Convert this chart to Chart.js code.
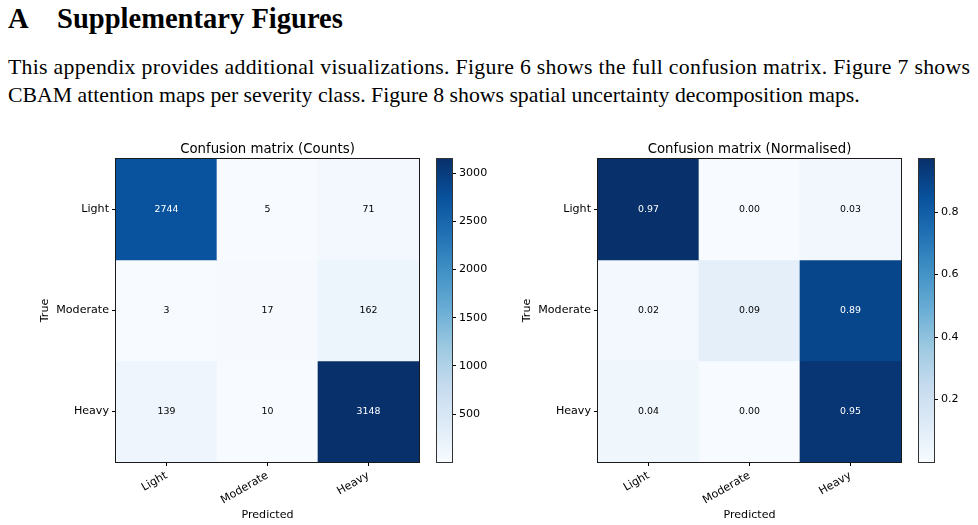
<!DOCTYPE html>
<html><head><meta charset="utf-8">
<script src="https://cdn.jsdelivr.net/npm/chart.js@4.4.1/dist/chart.umd.min.js"></script>
<style>
html,body{margin:0;padding:0;background:#fff;width:978px;height:525px;overflow:hidden;}
canvas{position:absolute;}
svg{position:absolute;left:0;top:0;}
</style></head><body>
<svg id="txt" width="978" height="130" xmlns="http://www.w3.org/2000/svg">
  <text id="hA" x="8" y="28" font-family="Liberation Serif" font-weight="bold" font-size="28.5" fill="#000">A</text>
  <text id="hS" x="57" y="28" font-family="Liberation Serif" font-weight="bold" font-size="28.5" fill="#000">Supplementary Figures</text>
  <text id="p1" x="8" y="74" font-family="Liberation Serif" font-size="22" fill="#000">This appendix provides additional visualizations. Figure 6 shows the full confusion matrix. Figure 7 shows</text>
  <text id="p2" x="8" y="102" font-family="Liberation Serif" font-size="22" fill="#000">CBAM attention maps per severity class. Figure 8 shows spatial uncertainty decomposition maps.</text>
</svg>
<canvas id="cmL" width="470" height="395" style="left:0px;top:130px"></canvas>
<canvas id="cbL" width="70" height="395" style="left:420px;top:130px"></canvas>
<canvas id="cmR" width="420" height="395" style="left:490px;top:130px"></canvas>
<canvas id="cbR" width="73" height="395" style="left:905px;top:130px"></canvas>
<script>
// ---- data ----
const classes = ['Light', 'Moderate', 'Heavy'];
const countsTrueLight    = [2744, 5, 71];
const countsTrueModerate = [3, 17, 162];
const countsTrueHeavy    = [139, 10, 3148];
const normTrueLight      = [0.97, 0.00, 0.03];
const normTrueModerate   = [0.02, 0.09, 0.89];
const normTrueHeavy      = [0.04, 0.00, 0.95];
const countTicks = [500, 1000, 1500, 2000, 2500, 3000];
const normTicks  = [0.2, 0.4, 0.6, 0.8];

// ---- text fitting ----
(function(){
  const m = document.createElement('canvas').getContext('2d');
  m.font = 'bold 28px "Liberation Serif"';
  const wh = m.measureText('Supplementary Figures').width;
  const fh = 28 * 286 / wh;
  document.getElementById('hA').setAttribute('font-size', fh);
  document.getElementById('hS').setAttribute('font-size', fh);
  const l2 = document.getElementById('p2').textContent;
  m.font = '22px "Liberation Serif"';
  const w2 = m.measureText(l2).width;
  const fp = 22 * 852 / w2;
  document.getElementById('p1').setAttribute('font-size', fp);
  document.getElementById('p2').setAttribute('font-size', fp);
  const p1 = document.getElementById('p1');
  p1.setAttribute('textLength', 962);
  p1.setAttribute('lengthAdjust', 'spacing');
})();

// ---- colormap (matplotlib Blues) ----
const bluesStops = ['#f7fbff','#deebf7','#c6dbef','#9ecae1','#6baed6','#4292c6','#2171b5','#08519c','#08306b'];
function hex2rgb(h){return [parseInt(h.slice(1,3),16),parseInt(h.slice(3,5),16),parseInt(h.slice(5,7),16)];}
function bluesAt(t){
  t = Math.max(0, Math.min(1, t));
  const n = bluesStops.length - 1;
  const i = Math.min(n - 1, Math.floor(t * n));
  const f = t * n - i;
  const a = hex2rgb(bluesStops[i]), b = hex2rgb(bluesStops[i+1]);
  const c = a.map((v,k)=>Math.round(v + (b[k]-v)*f));
  return 'rgb(' + c.join(',') + ')';
}

const FONT = '"DejaVu Sans", sans-serif';
const tickFont = {family: FONT, size: 11.1};

function makeHeatmap(id, rows, fmt, title, yWidth, padRight, yTitlePad){
  const all = rows.flat();
  const vmin = Math.min(...all), vmax = Math.max(...all);
  const thresh = vmax / 2;
  const datasets = rows.map((row, r) => ({
    data: row.map(() => [r, r + 1]),
    backgroundColor: row.map(v => bluesAt((v - vmin) / (vmax - vmin))),
    borderWidth: 0,
    barPercentage: 1,
    categoryPercentage: 1,
    grouped: false
  }));
  const overlay = {
    id: 'overlay_' + id,
    afterDatasetsDraw(chart){
      const {ctx, chartArea: a, scales: {x, y}} = chart;
      ctx.save();
      ctx.font = '9.4px ' + FONT;
      ctx.textAlign = 'center';
      ctx.textBaseline = 'middle';
      rows.forEach((row, r) => row.forEach((v, c) => {
        ctx.fillStyle = v > thresh ? '#ffffff' : '#000000';
        ctx.fillText(fmt(v), x.getPixelForValue(c), y.getPixelForValue(r + 0.5));
      }));
      ctx.strokeStyle = '#1a1a1a';
      ctx.lineWidth = 1;
      ctx.strokeRect(a.left - 0.5, a.top - 0.5, a.width + 1, a.height + 1);
      ctx.fillStyle = '#000';
      ctx.font = '13.3px ' + FONT;
      ctx.textBaseline = 'alphabetic';
      ctx.fillText(title, (a.left + a.right) / 2, a.top - 6.5);
      ctx.restore();
    }
  };
  return new Chart(document.getElementById(id), {
    type: 'bar',
    data: {labels: classes, datasets},
    options: {
      responsive: false, animation: false,
      layout: {padding: {left: 0, right: padRight, top: 29, bottom: 0}},
      plugins: {legend: {display: false}, tooltip: {enabled: false}},
      scales: {
        x: {
          type: 'category',
          afterFit: s => { s.height = 63; },
          grid: {offset: false, drawOnChartArea: false, drawTicks: true, tickLength: 4, color: '#000'},
          border: {display: false},
          ticks: {font: tickFont, color: '#000', minRotation: 30, maxRotation: 30, autoSkip: false, padding: 3},
          title: {display: true, text: 'Predicted', font: tickFont, color: '#000', padding: {top: 0, bottom: 3.3}}
        },
        y: {
          type: 'linear', min: 0, max: 3, reverse: true,
          afterFit: s => { s.width = yWidth; },
          afterBuildTicks: s => { s.ticks = classes.map((c, i) => ({value: i + 0.5})); },
          grid: {drawOnChartArea: false, drawTicks: true, tickLength: 4, color: '#000'},
          border: {display: false},
          ticks: {font: tickFont, color: '#000', padding: 3, callback: v => classes[Math.floor(v)]},
          title: {display: true, text: 'True', font: tickFont, color: '#000', padding: {top: yTitlePad, bottom: 0}}
        }
      }
    },
    plugins: [overlay]
  });
}

function makeColorbar(id, rows, ticks, fmt, padLeft, axisW){
  const all = rows.flat();
  const vmin = Math.min(...all), vmax = Math.max(...all);
  const outline = {
    id: 'outline_' + id,
    afterDatasetsDraw(chart){
      const {ctx, chartArea: a} = chart;
      ctx.save();
      ctx.strokeStyle = '#333';
      ctx.lineWidth = 1;
      ctx.strokeRect(a.left - 0.5, a.top - 0.5, a.width + 1, a.height + 1);
      ctx.restore();
    }
  };
  return new Chart(document.getElementById(id), {
    type: 'bar',
    data: {labels: [''], datasets: [{
      data: [[vmin, vmax]],
      backgroundColor: c => {
        const ca = c.chart.chartArea;
        if (!ca) return bluesStops[0];
        const g = c.chart.ctx.createLinearGradient(0, ca.bottom, 0, ca.top);
        bluesStops.forEach((col, i) => g.addColorStop(i / (bluesStops.length - 1), col));
        return g;
      },
      borderWidth: 0, barPercentage: 1, categoryPercentage: 1
    }]},
    options: {
      responsive: false, animation: false,
      layout: {padding: {left: padLeft, right: 0, top: 29, bottom: 63}},
      plugins: {legend: {display: false}, tooltip: {enabled: false}},
      scales: {
        x: {display: false},
        y: {
          position: 'right', min: vmin, max: vmax,
          afterFit: s => { s.width = axisW; },
          afterBuildTicks: s => { s.ticks = ticks.map(v => ({value: v})); },
          grid: {drawOnChartArea: false, drawTicks: true, tickLength: 4, color: '#000'},
          border: {display: false},
          ticks: {font: tickFont, color: '#000', padding: 3, callback: v => fmt(v)}
        }
      }
    },
    plugins: [outline]
  });
}

const countRows = [countsTrueLight, countsTrueModerate, countsTrueHeavy];
const normRows  = [normTrueLight, normTrueModerate, normTrueHeavy];

makeHeatmap('cmL', countRows, v => String(v), 'Confusion matrix (Counts)', 116, 51, 38.3);
makeColorbar('cbL', countRows, countTicks, v => String(v), 17, 38);
makeHeatmap('cmR', normRows, v => v.toFixed(2), 'Confusion matrix (Normalised)', 108, 9, 30.8);
makeColorbar('cbR', normRows, normTicks, v => v.toFixed(1), 14, 44);
</script>
</body></html>
